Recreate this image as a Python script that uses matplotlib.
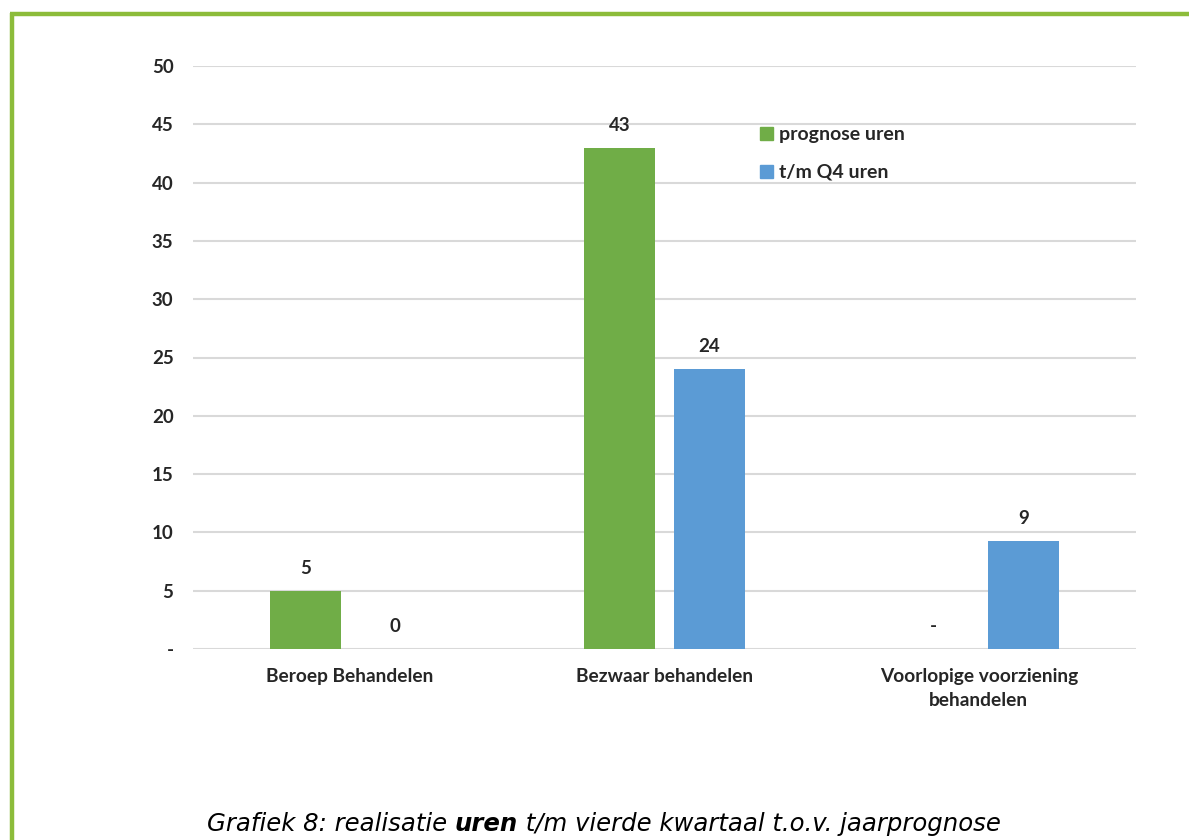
import matplotlib
matplotlib.use("Agg")
import matplotlib.pyplot as plt
from matplotlib.patches import Patch
from matplotlib.lines import Line2D
import numpy as np

categories = ["Beroep Behandelen", "Bezwaar behandelen", "Voorlopige voorziening\nbehandelen"]
prognose = [5, 43, 0]
prognose_labels = ["5", "43", "-"]
realisatie = [0, 24, 9.25]
realisatie_labels = ["0", "24", "9"]
series_names = ["prognose uren", "t/m Q4 uren"]
yticks = [0, 5, 10, 15, 20, 25, 30, 35, 40, 45, 50]
ytick_labels = ["-", "5", "10", "15", "20", "25", "30", "35", "40", "45", "50"]

green = "#70AD47"
blue = "#5B9BD5"
border = "#8CBC3A"
txt = "#262626"
font = "Lato"
fs = 13.5

fig = plt.figure(figsize=(11.89, 8.4), dpi=100)
ax = fig.add_axes([193/1189, 1-649/840, (1136-193)/1189, (649-66)/840])

x = np.arange(len(categories))
w = 0.225
off = 0.143
b1 = ax.bar(x - off, prognose, w, color=green, zorder=3)
b2 = ax.bar(x + off, realisatie, w, color=blue, zorder=3)

for bars, labs in ((b1, prognose_labels), (b2, realisatie_labels)):
    for r, lab in zip(bars, labs):
        ax.annotate(lab, (r.get_x() + r.get_width()/2, r.get_height()),
                    xytext=(0, 12), textcoords="offset points", ha="center", va="baseline",
                    fontsize=fs, fontweight="bold", family=font, color=txt)

ax.set_xlim(-0.5, 2.5)
ax.set_ylim(0, 50)
ax.set_yticks(yticks)
ax.set_yticklabels(ytick_labels, fontsize=fs, fontweight="bold", family=font, color=txt)
ax.set_xticks(x)
ax.set_xticklabels(categories, fontsize=13.8, fontweight="bold", family=font, color=txt,
                   linespacing=1.45)
ax.tick_params(axis="both", length=0)
ax.tick_params(axis="y", pad=14)
ax.tick_params(axis="x", pad=14)
for s in ax.spines.values():
    s.set_visible(False)
ax.grid(axis="y", color="#D9D9D9", linewidth=1.5, zorder=0)
ax.set_axisbelow(True)

handles = [Patch(color=green), Patch(color=blue)]
leg = fig.legend(handles, series_names, loc="upper left",
                 bbox_to_anchor=(760/1189, 1-126/840), frameon=False,
                 borderpad=0, borderaxespad=0,
                 handlelength=0.67, handleheight=0.67, handletextpad=0.3,
                 labelspacing=1.08,
                 prop={"family": font, "weight": "bold", "size": 14})
for t in leg.get_texts():
    t.set_color(txt)

# green frame
fig.add_artist(Line2D([10/1189, 1], [1-14/840, 1-14/840], color=border, linewidth=3.2,
                      transform=fig.transFigure, solid_capstyle="butt"))
fig.add_artist(Line2D([11.5/1189, 11.5/1189], [0, 1-12.5/840], color=border, linewidth=3.2,
                      transform=fig.transFigure, solid_capstyle="butt"))

# caption
cfs = 17.6
cap_y = 1 - 831/840
t1 = fig.text(207/1189, cap_y, "Grafiek 8: realisatie ", fontsize=cfs, style="italic",
              family="DejaVu Sans", color="black", va="baseline")
t2 = fig.text(0, 0, "uren", fontsize=cfs, style="italic", weight="bold",
              family="DejaVu Sans", color="black", va="baseline")
t3 = fig.text(0, 0, " t/m vierde kwartaal t.o.v. jaarprognose", fontsize=cfs, style="italic",
              family="DejaVu Sans", color="black", va="baseline")
fig.canvas.draw()
r = fig.canvas.get_renderer()
bb1 = t1.get_window_extent(r)
t2.set_position(((bb1.x1) / fig.bbox.width, cap_y))
fig.canvas.draw()
bb2 = t2.get_window_extent(r)
t3.set_position(((bb2.x1) / fig.bbox.width, cap_y))

fig.savefig("out.png", dpi=100)
